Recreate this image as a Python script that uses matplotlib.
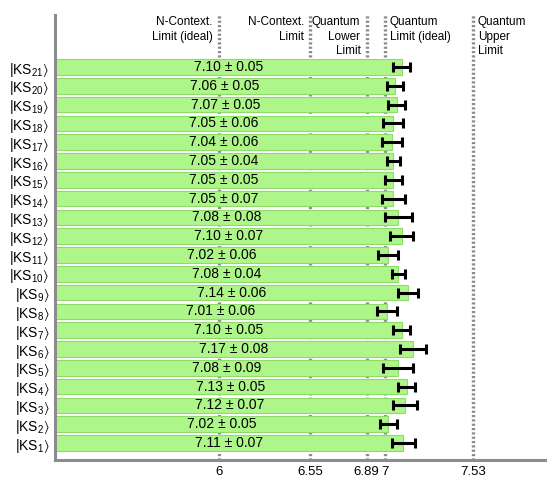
import matplotlib.pyplot as plt
import numpy as np

plt.rcParams['font.family'] = ['Liberation Sans', 'DejaVu Sans']
plt.rcParams['mathtext.fontset'] = 'custom'
plt.rcParams['mathtext.rm'] = 'Liberation Sans'
plt.rcParams['mathtext.it'] = 'Liberation Sans:italic'
plt.rcParams['mathtext.fallback'] = 'stixsans'

# states KS1 .. KS21 (bottom to top)
states = list(range(1, 22))
values = [7.11, 7.02, 7.12, 7.13, 7.08, 7.17, 7.10, 7.01, 7.14, 7.08,
          7.02, 7.10, 7.08, 7.05, 7.05, 7.05, 7.04, 7.05, 7.07, 7.06, 7.10]
errors = [0.07, 0.05, 0.07, 0.05, 0.09, 0.08, 0.05, 0.06, 0.06, 0.04,
          0.06, 0.07, 0.08, 0.07, 0.05, 0.04, 0.06, 0.06, 0.05, 0.05, 0.05]

limit_values = [6, 6.55, 6.89, 7, 7.53]
limit_labels = ['N-Context.\nLimit (ideal)', 'N-Context.\nLimit',
                'Quantum\nLower\nLimit', 'Quantum\nLimit (ideal)',
                'Quantum\nUpper\nLimit']
limit_side = ['left', 'left', 'left', 'right', 'right']

xmin, xmax = 5.012, 7.976
grey = '#8c8c8c'

fig = plt.figure(figsize=(5.47, 4.78), dpi=100)
ax = fig.add_axes([0.1005, 0.0377, 0.8995, 0.9309])

y = np.arange(len(states))

# limit lines behind the bars
for xv in limit_values:
    ax.axvline(xv, color=grey, lw=2.4, linestyle=(0, (0.65, 0.65)),
               dash_capstyle='butt', zorder=0)

ax.barh(y, np.array(values) - xmin, left=xmin, height=0.83,
        color='#aef68a', edgecolor='#8edb6c', linewidth=0.8, zorder=2)
ax.errorbar(values, y, xerr=errors, fmt='none', ecolor='black',
            elinewidth=2.2, capsize=3.5, capthick=2.2, zorder=3)

for yi, v, e in zip(y, values, errors):
    ax.text((xmin + v) / 2, yi, f'{v:.2f} ± {e:.2f}', ha='center',
            va='center', fontsize=10, zorder=4)

for xv, lab, side in zip(limit_values, limit_labels, limit_side):
    if side == 'left':
        ax.annotate(lab, xy=(xv, 0.997), xycoords=('data', 'axes fraction'),
                    xytext=(-4.5, 0), textcoords='offset points',
                    ha='right', va='top', fontsize=8.5, linespacing=1.25)
    else:
        ax.annotate(lab, xy=(xv, 0.997), xycoords=('data', 'axes fraction'),
                    xytext=(3.5, 0), textcoords='offset points',
                    ha='left', va='top', fontsize=8.5, linespacing=1.25)

ax.set_xlim(xmin, xmax)
ax.set_ylim(-0.9, 22.77)
ax.set_xticks(limit_values)
ax.set_xticklabels(['6', '6.55', '6.89', '7', '7.53'], fontsize=9.5)
ax.set_yticks(y)
ax.set_yticklabels([r'$|\mathrm{KS}_{%d}\rangle$' % s for s in states],
                   fontsize=10)
ax.tick_params(length=0, pad=4)

for side in ['top', 'right']:
    ax.spines[side].set_visible(False)
for side in ['left', 'bottom']:
    ax.spines[side].set_color(grey)
    ax.spines[side].set_linewidth(2.2)

fig.savefig('out.png', dpi=100)
